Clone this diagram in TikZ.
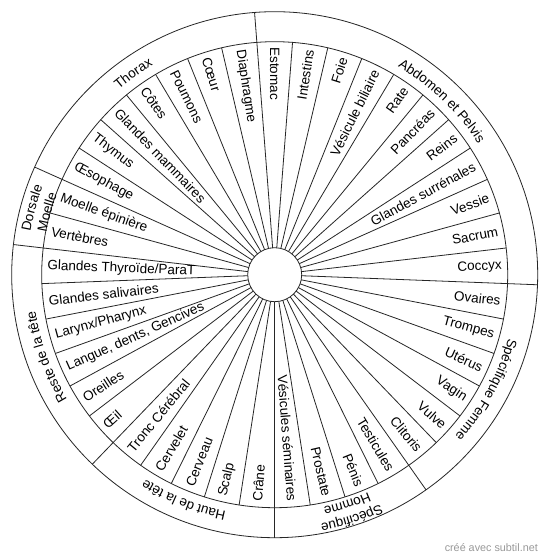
\documentclass[tikz,border=0pt]{standalone}
\usepackage{fontspec}
\setmainfont{Liberation Sans}
\usetikzlibrary{decorations.text}
\newcommand\grpfont{\fontsize{13.5}{16}\selectfont}

\begin{document}
\begin{tikzpicture}[x=1pt, y=1pt,
  rim/.style={line width=.8pt, black!85},
  organ/.style={inner sep=0pt, font=\grpfont},
  grp/.style={decorate, decoration={text along path, text align=center, text={|\grpfont|#1}}}]
\useasboundingbox [fill=white] (-274.7, -285.3) rectangle (275.3, 274.7);

\draw [rim] (0, 0) circle [radius=27pt];
\draw [rim] (0, 0) circle [radius=233pt];
\draw [rim] (0, 0) circle [radius=263pt];

\foreach \k in {0,...,40}
  \draw [rim] ({94.3902+\k*8.7805}:27pt) -- ({94.3902+\k*8.7805}:233pt);
\foreach \k in {0,7,9,15,20,24,30}
  \draw [rim] ({94.3902+\k*8.7805}:233pt) -- ({94.3902+\k*8.7805}:263pt);

\foreach \name [count=\i] in {Intestins, Foie, Vésicule biliaire, Rate, Pancréas, Reins,
    Glandes surrénales, Vessie, Sacrum, Coccyx, Ovaires, Trompes, Utérus, Vagin, Vulve,
    Clitoris, Testicules, Pénis, Prostate, Vésicules séminaires} {
  \pgfmathsetmacro\a{90-\i*8.7805}
  \node [organ, anchor=east, rotate=\a] (d\i) at (\a:227.5pt) {\name};
}
\foreach \name [count=\i from 21] in {Crâne, Scalp, Cerveau, Cervelet, Tronc Cérébral, Œil,
    Oreilles, {Langue, dents, Gencives}, Larynx/Pharynx, Glandes salivaires,
    Glandes Thyroïde/ParaT, Vertèbres, Moelle épinière, Œsophage, Thymus,
    Glandes mammaires, Côtes, Poumons, Cœur, Diaphragme, Estomac} {
  \pgfmathsetmacro\a{90-\i*8.7805}
  \node [organ, anchor=west, rotate=\a+180] (g\i) at (\a:227.5pt) {\name};
}

\path [grp={Abdomen et Pelvis}] (94.3902:242pt) arc [start angle=94.3902, end angle=-2.1951, radius=242pt];
\path [grp={Spécifique Femme}] (-2.1951:242pt) arc [start angle=-2.1951, end angle=-54.878, radius=242pt];
\path [grp={Spécifique}] (-54.878:253pt) arc [start angle=-54.878, end angle=-90, radius=253pt];
\path [grp={Homme}] (-54.878:237pt) arc [start angle=-54.878, end angle=-90, radius=237pt];
\path [grp={Haut de la tête}] (-90:242pt) arc [start angle=-90, end angle=-133.9024, radius=242pt];
\path [grp={Reste de la tête}] (226.0976:242pt) arc [start angle=226.0976, end angle=173.4146, radius=242pt];
\path [grp={Dorsale}] (173.4146:248pt) arc [start angle=173.4146, end angle=155.8537, radius=248pt];
\path [grp={Moelle}] (173.4146:232pt) arc [start angle=173.4146, end angle=155.8537, radius=232pt];
\path [grp={Thorax}] (155.8537:242pt) arc [start angle=155.8537, end angle=94.3902, radius=242pt];

\node [font=\fontsize{10.8}{13}\selectfont, text=black!40, anchor=east, inner sep=0pt] (credit) at (263.3, -273.3) {créé avec subtil.net};
\end{tikzpicture}
\end{document}
